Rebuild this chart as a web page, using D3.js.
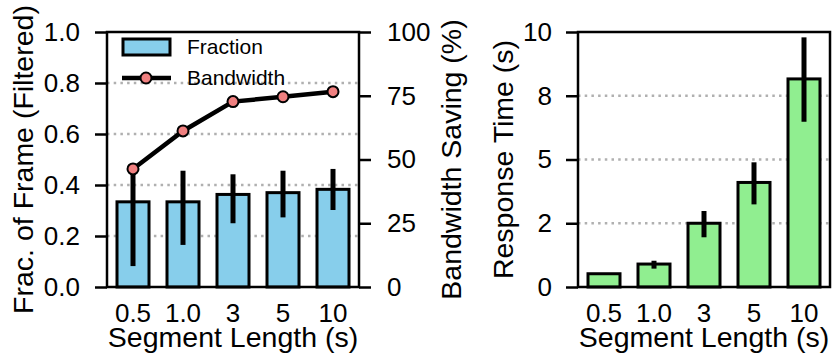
<!DOCTYPE html>
<html>
<head>
<meta charset="utf-8">
<script src="https://cdn.jsdelivr.net/npm/d3@7"></script>
<style>
  body { margin: 0; background: #fff; }
  svg text { font-family: "Liberation Sans", Arial, Helvetica, sans-serif; fill: #000; }
</style>
</head>
<body>
<div id="chart"></div>
<script>
// data
var segLabels = ["0.5", "1.0", "3", "5", "10"];

var fraction = [0.334, 0.334, 0.363, 0.370, 0.383];
var fractionLo = [0.082, 0.165, 0.250, 0.273, 0.302];
var fractionHi = [0.480, 0.456, 0.442, 0.456, 0.463];
var bandwidth = [46.3, 61.2, 72.7, 74.6, 76.6];

var respTime = [0.52, 0.90, 2.50, 4.10, 8.16];
var respLo = [0.49, 0.72, 1.95, 3.24, 6.48];
var respHi = [0.55, 1.03, 2.98, 4.89, 9.79];

var fracTicks = [0, 0.2, 0.4, 0.6, 0.8, 1.0];
var bwTicks = [0, 25, 50, 75, 100];
var rtTicks = [0, 2.5, 5, 7.5, 10];
var rtTickLabels = ["0", "2", "5", "8", "10"];

var W = 833, H = 359;
var plotTop = 32, plotBottom = 287;
var tickFont = "26px", labelFont = "28.5px", legendFont = "21px";

var svg = d3.select("#chart").append("svg")
  .attr("width", W).attr("height", H);

function band(x0, x1) {
  return d3.scaleBand().domain(segLabels).range([x0, x1])
    .paddingInner(0.36).paddingOuter(0.2);
}

function styleAxis(g) {
  g.select(".domain").remove();
  g.selectAll(".tick line").attr("stroke", "#000").attr("stroke-width", 2.5);
  g.selectAll(".tick text").style("font-size", tickFont);
}

function grid(g, y, vals, x0, x1) {
  g.selectAll("line.grid").data(vals).enter().append("line")
    .attr("class", "grid")
    .attr("x1", x0).attr("x2", x1)
    .attr("y1", function(d) { return y(d); })
    .attr("y2", function(d) { return y(d); })
    .attr("stroke", "#b0b0b0").attr("stroke-width", 2.5)
    .attr("stroke-dasharray", "2.5,4.2");
}

function bars(g, x, y, vals, lo, hi, color) {
  g.selectAll("rect.bar").data(vals).enter().append("rect")
    .attr("class", "bar")
    .attr("x", function(d, i) { return x(segLabels[i]); })
    .attr("width", x.bandwidth())
    .attr("y", function(d) { return y(d); })
    .attr("height", function(d) { return y(0) - y(d); })
    .attr("fill", color).attr("stroke", "#000").attr("stroke-width", 3);
  g.selectAll("line.err").data(vals).enter().append("line")
    .attr("class", "err")
    .attr("x1", function(d, i) { return x(segLabels[i]) + x.bandwidth() / 2; })
    .attr("x2", function(d, i) { return x(segLabels[i]) + x.bandwidth() / 2; })
    .attr("y1", function(d, i) { return y(lo[i]); })
    .attr("y2", function(d, i) { return y(hi[i]); })
    .attr("stroke", "#000").attr("stroke-width", 5);
}

function frame(g, x0, x1) {
  g.append("rect")
    .attr("x", x0).attr("y", plotTop)
    .attr("width", x1 - x0).attr("height", plotBottom - plotTop)
    .attr("fill", "none").attr("stroke", "#000").attr("stroke-width", 2.5);
}

function xAxis(g, x, cx) {
  var ax = g.append("g").attr("transform", "translate(0," + plotBottom + ")")
    .call(d3.axisBottom(x).tickSize(0).tickPadding(16.5));
  styleAxis(ax);
  g.append("text")
    .attr("x", cx).attr("y", 347)
    .attr("text-anchor", "middle")
    .style("font-size", labelFont)
    .text("Segment Length (s)");
}

// ---------- left panel ----------
var L0 = 107, L1 = 359;
var xL = band(L0, L1);
var yL = d3.scaleLinear().domain([0, 1]).range([plotBottom, plotTop]);
var yB = d3.scaleLinear().domain([0, 100]).range([plotBottom, plotTop]);

var left = svg.append("g");
grid(left, yL, [0.2, 0.4, 0.6, 0.8], L0, L1);
bars(left, xL, yL, fraction, fractionLo, fractionHi, "#87CEEB");

var line = d3.line()
  .x(function(d, i) { return xL(segLabels[i]) + xL.bandwidth() / 2; })
  .y(function(d) { return yB(d); });
left.append("path").datum(bandwidth)
  .attr("d", line).attr("fill", "none")
  .attr("stroke", "#000").attr("stroke-width", 4.5);
left.selectAll("circle.pt").data(bandwidth).enter().append("circle")
  .attr("class", "pt")
  .attr("cx", function(d, i) { return xL(segLabels[i]) + xL.bandwidth() / 2; })
  .attr("cy", function(d) { return yB(d); })
  .attr("r", 5.5)
  .attr("fill", "#F08080").attr("stroke", "#000").attr("stroke-width", 2);

frame(left, L0, L1);

var axL = left.append("g").attr("transform", "translate(" + L0 + ",0)")
  .call(d3.axisLeft(yL).tickValues(fracTicks).tickFormat(d3.format(".1f"))
    .tickSize(12).tickPadding(15));
styleAxis(axL);

var axR = left.append("g").attr("transform", "translate(" + L1 + ",0)")
  .call(d3.axisRight(yB).tickValues(bwTicks).tickFormat(d3.format("d"))
    .tickSize(12).tickPadding(16));
styleAxis(axR);

xAxis(left, xL, (L0 + L1) / 2);

left.append("text")
  .attr("transform", "translate(32.5," + ((plotTop + plotBottom) / 2) + ") rotate(-90)")
  .attr("text-anchor", "middle")
  .style("font-size", labelFont)
  .text("Frac. of Frame (Filtered)");

left.append("text")
  .attr("transform", "translate(461," + ((plotTop + plotBottom) / 2) + ") rotate(-90)")
  .attr("text-anchor", "middle")
  .style("font-size", labelFont)
  .text("Bandwidth Saving (%)");

// legend
var lg = left.append("g");
lg.append("rect")
  .attr("x", 123).attr("y", 39).attr("width", 47).attr("height", 16)
  .attr("fill", "#87CEEB").attr("stroke", "#000").attr("stroke-width", 3);
lg.append("text").attr("x", 187).attr("y", 47).attr("dy", "0.35em")
  .style("font-size", legendFont).text("Fraction");
lg.append("line")
  .attr("x1", 122).attr("x2", 171).attr("y1", 78).attr("y2", 78)
  .attr("stroke", "#000").attr("stroke-width", 4.5);
lg.append("circle").attr("cx", 146).attr("cy", 78).attr("r", 5.5)
  .attr("fill", "#F08080").attr("stroke", "#000").attr("stroke-width", 2);
lg.append("text").attr("x", 187).attr("y", 78).attr("dy", "0.35em")
  .style("font-size", legendFont).text("Bandwidth");

// ---------- right panel ----------
var R0 = 578, R1 = 830;
var xR = band(R0, R1);
var yR = d3.scaleLinear().domain([0, 10]).range([plotBottom, plotTop]);

var right = svg.append("g");
grid(right, yR, [2.5, 5, 7.5], R0, R1);
bars(right, xR, yR, respTime, respLo, respHi, "#90EE90");
frame(right, R0, R1);

var axRT = right.append("g").attr("transform", "translate(" + R0 + ",0)")
  .call(d3.axisLeft(yR).tickValues(rtTicks)
    .tickFormat(function(d, i) { return rtTickLabels[i]; })
    .tickSize(12).tickPadding(14));
styleAxis(axRT);

xAxis(right, xR, (R0 + R1) / 2);

right.append("text")
  .attr("transform", "translate(513," + ((plotTop + plotBottom) / 2) + ") rotate(-90)")
  .attr("text-anchor", "middle")
  .style("font-size", labelFont)
  .text("Response Time (s)");
</script>
</body>
</html>
